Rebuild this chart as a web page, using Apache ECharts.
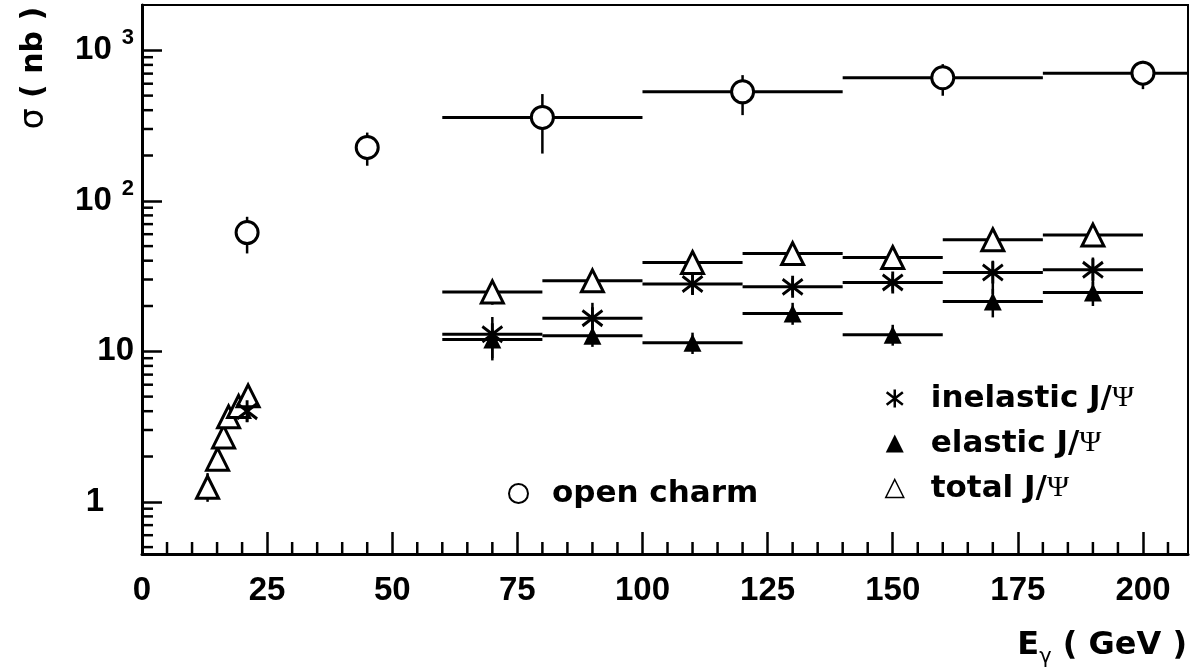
<!DOCTYPE html>
<html>
<head>
<meta charset="utf-8">
<script src="https://cdn.jsdelivr.net/npm/echarts@6/dist/echarts.min.js"></script>
<style>
  * { margin: 0; padding: 0; }
  body { background: #fff; }
</style>
</head>
<body>
<div id="main" style="width:1191px;height:672px;background:white;"></div>
<script>
// axis ranges
var X_MIN = 0, X_MAX = 209;
var Y_MIN = 0.45, Y_MAX = 2000;

// y tick labels (log axis)
var yTickValues = [1, 10, 100, 1000];
var yTickBase = ['1', '10', '10', '10'];
var yTickExp = ['', '', '2', '3'];

// open charm
var openE = [21, 45, 80, 120, 160, 200];
var openHalfWidth = [0, 0, 20, 20, 20, 20];
var openSigma = [61.5, 226, 358, 530, 657, 705];
var openLo = [44.7, 171, 206, 371, 499, 552];
var openHi = [78.3, 284, 512, 684, 809, 851];

// total J/psi
var totalE = [13.1, 15.1, 16.3, 17.3, 19.3, 21.2, 70, 90, 110, 130, 150, 170, 190];
var totalHalfWidth = [0, 0, 0, 0, 0, 0, 10, 10, 10, 10, 10, 10, 10];
var totalSigma = [1.25, 1.92, 2.70, 3.67, 4.3, 5.06, 24.8, 29.4, 38.9, 44.6, 42.0, 55.1, 59.2];
var totalLo = [1.0, 1.7, 2.45, 3.35, 3.9, 4.6, 20.4, 27, 36, 41, 39, 51, 55];
var totalHi = [1.55, 2.15, 2.95, 4.0, 4.7, 5.5, 29.5, 32, 42, 48, 45, 59, 64];

// inelastic J/psi
var inelE = [21, 70, 90, 110, 130, 150, 170, 190];
var inelHalfWidth = [0, 10, 10, 10, 10, 10, 10, 10];
var inelSigma = [4.0, 13.0, 16.6, 28.0, 26.8, 28.7, 33.4, 34.8];
var inelLo = [3.4, 8.7, 13, 24, 23.5, 25, 24, 26];
var inelHi = [4.8, 16.9, 21, 32, 30.5, 32.5, 40, 42];

// elastic J/psi
var elE = [70, 90, 110, 130, 150, 170, 190];
var elHalfWidth = [10, 10, 10, 10, 10, 10, 10];
var elSigma = [12.0, 12.7, 11.4, 17.8, 12.9, 21.4, 24.6];
var elLo = [9, 10.7, 9.6, 15, 10.9, 16.8, 20];
var elHi = [14, 15, 13.3, 21, 15, 26, 29];

var FONT = 'Liberation Sans';
var WIDE = 'DejaVu Sans';
var STAR = 'path://M0,-10L0,10M-9,-7L9,7M-9,7L9,-7';

// minor tick positions
var xMinor = [];
for (var t = 5; t < X_MAX; t += 5) { if (t % 25 !== 0) xMinor.push([t, Y_MIN]); }
var yMinor = [];
[0.1, 1, 10, 100, 1000].forEach(function (d) {
  for (var k = 2; k <= 9; k++) {
    var v = d * k;
    if (v > Y_MIN && v < Y_MAX) yMinor.push([X_MIN, v]);
  }
});

function errorBars(name, xs, hw, ys, lo, hi) {
  return {
    name: name + ' err',
    type: 'custom',
    silent: true,
    z: 1,
    data: xs.map(function (x, i) { return [x, ys[i], hw[i], lo[i], hi[i]]; }),
    encode: { x: 0, y: 1 },
    renderItem: function (params, api) {
      var x = api.value(0), y = api.value(1), w = api.value(2);
      var kids = [];
      if (w > 0) {
        var l = api.coord([Math.max(x - w, X_MIN), y]);
        var r = api.coord([Math.min(x + w, X_MAX), y]);
        kids.push({ type: 'line', shape: { x1: l[0], y1: l[1], x2: r[0], y2: r[1] },
          style: { stroke: '#000', lineWidth: 3 } });
      }
      var b = api.coord([x, api.value(3)]);
      var tp = api.coord([x, api.value(4)]);
      kids.push({ type: 'line', shape: { x1: b[0], y1: b[1], x2: tp[0], y2: tp[1] },
        style: { stroke: '#000', lineWidth: 2.5 } });
      return { type: 'group', children: kids };
    }
  };
}

function tickSeries(data, dx, dy) {
  return {
    type: 'custom',
    silent: true,
    z: 5,
    data: data,
    renderItem: function (params, api) {
      var p = api.coord([api.value(0), api.value(1)]);
      return { type: 'line', shape: { x1: p[0], y1: p[1], x2: p[0] + dx, y2: p[1] + dy },
        style: { stroke: '#000', lineWidth: 2.5 } };
    }
  };
}

function pts(xs, ys) { return xs.map(function (x, i) { return [x, ys[i]]; }); }

var chart = echarts.init(document.getElementById('main'));
chart.setOption({
  animation: false,
  grid: { left: 142, right: 3, top: 5, bottom: 118, show: true, borderColor: '#000', borderWidth: 2 },
  xAxis: {
    type: 'value', min: X_MIN, max: X_MAX, interval: 25,
    axisLine: { lineStyle: { color: '#000', width: 3 } },
    axisTick: { inside: true, length: 22, lineStyle: { color: '#000', width: 2.5 } },
    axisLabel: { showMaxLabel: false, color: '#000', fontSize: 33, fontWeight: 'bold', fontFamily: FONT, margin: 20 },
    splitLine: { show: false }
  },
  yAxis: {
    type: 'log', logBase: 10, min: Y_MIN, max: Y_MAX,
    axisLine: { lineStyle: { color: '#000', width: 3 } },
    axisTick: { inside: true, length: 20, lineStyle: { color: '#000', width: 2.5 } },
    axisLabel: {
      showMinLabel: false, showMaxLabel: false, margin: 8,
      formatter: function (v) {
        var i = yTickValues.indexOf(Math.round(v));
        if (i < 0) return '';
        if (yTickExp[i]) return '{n|' + yTickBase[i] + '}{s|' + yTickExp[i] + '}';
        return yTickBase[i] === '1' ? '{one|1}' : '{n|' + yTickBase[i] + '}';
      },
      rich: {
        n: { color: '#000', fontSize: 33, fontWeight: 'bold', fontFamily: FONT },
        one: { color: '#000', fontSize: 33, fontWeight: 'bold', fontFamily: FONT, padding: [0, 30, 0, 0] },
        s: { color: '#000', fontSize: 22, fontWeight: 'bold', fontFamily: FONT, padding: [0, 0, 24, 10] }
      }
    },
    splitLine: { show: false }
  },
  legend: [
    {
      data: [
        { name: 'inelastic J/Ψ', itemStyle: { borderWidth: 2.5 } },
        { name: 'elastic J/Ψ' },
        { name: 'total J/Ψ', itemStyle: { borderWidth: 1.5 } }
      ],
      orient: 'vertical', left: 880, top: 378, itemWidth: 18, itemHeight: 18, itemGap: 14,
      selectedMode: false,
      formatter: function (name) { return '{t|' + name.replace('Ψ', '') + '}{p|Ψ}'; },
      textStyle: {
        padding: [0, 0, 0, 22],
        rich: {
          t: { color: '#000', fontSize: 31, fontWeight: 'bold', fontFamily: WIDE, lineHeight: 30 },
          p: { color: '#000', fontSize: 30, fontFamily: 'Liberation Serif', lineHeight: 30 }
        }
      }
    },
    {
      data: [{ name: 'open charm', itemStyle: { borderWidth: 2 } }],
      left: 503, top: 473, itemWidth: 19, itemHeight: 19,
      selectedMode: false,
      textStyle: { color: '#000', fontSize: 31, fontWeight: 'bold', fontFamily: WIDE, padding: [0, 0, 0, 19] }
    }
  ],
  graphic: [
    {
      type: 'text', x: 34, y: 68, rotation: Math.PI / 2,
      style: {
        text: '{s|σ}{b| ( nb )}', align: 'center', verticalAlign: 'middle',
        rich: {
          s: { fill: '#000', fontSize: 33, fontFamily: WIDE },
          b: { fill: '#000', fontSize: 30, fontWeight: 'bold', fontFamily: WIDE }
        }
      }
    },
    {
      type: 'text', x: 1187, y: 646,
      style: {
        text: '{b|E}{g|γ}{b| ( GeV )}', align: 'right', verticalAlign: 'middle',
        rich: {
          b: { fill: '#000', fontSize: 32, fontWeight: 'bold', fontFamily: WIDE },
          g: { fill: '#000', fontSize: 21, fontFamily: WIDE, padding: [24, 0, 0, 0] }
        }
      }
    }
  ],
  series: [
    tickSeries(xMinor, 0, -12),
    tickSeries(yMinor, 11, 0),
    errorBars('open charm', openE, openHalfWidth, openSigma, openLo, openHi),
    errorBars('total J/Ψ', totalE, totalHalfWidth, totalSigma, totalLo, totalHi),
    errorBars('inelastic J/Ψ', inelE, inelHalfWidth, inelSigma, inelLo, inelHi),
    errorBars('elastic J/Ψ', elE, elHalfWidth, elSigma, elLo, elHi),
    {
      name: 'open charm', type: 'scatter', z: 3, symbol: 'circle', symbolSize: 22,
      itemStyle: { color: '#fff', borderColor: '#000', borderWidth: 3, opacity: 1 },
      data: pts(openE, openSigma)
    },
    {
      name: 'total J/Ψ', type: 'scatter', z: 3, symbol: 'triangle', symbolSize: 22,
      itemStyle: { color: '#fff', borderColor: '#000', borderWidth: 3, opacity: 1 },
      data: pts(totalE, totalSigma)
    },
    {
      name: 'elastic J/Ψ', type: 'scatter', z: 3, symbol: 'triangle', symbolSize: 18,
      itemStyle: { color: '#000', borderColor: '#000', borderWidth: 0, opacity: 1 },
      data: pts(elE, elSigma)
    },
    {
      name: 'inelastic J/Ψ', type: 'scatter', z: 4, symbol: STAR, symbolSize: [20, 22],
      itemStyle: { color: '#000', borderColor: '#000', borderWidth: 3, opacity: 1 },
      data: pts(inelE, inelSigma)
    }
  ]
});
</script>
</body>
</html>
